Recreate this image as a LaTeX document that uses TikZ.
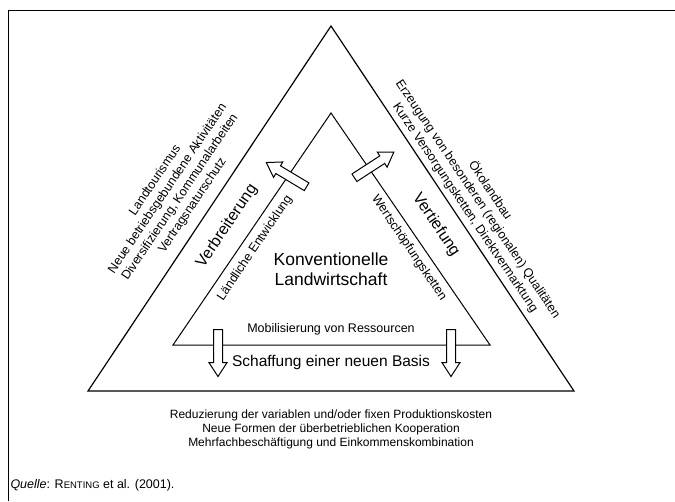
\documentclass[tikz,border=0pt]{standalone}
\usepackage{fontspec}
\setmainfont{Liberation Sans}
\usetikzlibrary{shapes.arrows}

\begin{document}
\begin{tikzpicture}[x=1pt, y=-1pt, line width=1pt,
  every node/.style={inner sep=0pt, align=center},
  smalltext/.style={font=\fontsize{12.5}{15}\selectfont},
  midtext/.style={font=\fontsize{16}{19}\selectfont},
  bigtext/.style={font=\fontsize{17.5}{20}\selectfont},
  blockarrow/.style={single arrow, draw, fill=white, line width=1pt,
    inner xsep=0pt, inner ysep=4pt, minimum height=47pt, minimum width=17pt,
    single arrow head extend=4.5pt, single arrow tip angle=66}]
\useasboundingbox (0,0) rectangle (675,501);
% frame
\draw (8,501) -- (8,10) -- (675,10);

% outer and inner triangle
\coordinate (oL) at (88,391);
\coordinate (oR) at (574,391);
\coordinate (oT) at (331,26);
\coordinate (iL) at (173,345);
\coordinate (iR) at (490,345);
\coordinate (iT) at (331,113);
\draw[line width=1.2pt] (oL) -- (oT) -- (oR) -- cycle;
\draw (iL) -- (iT) -- (iR) -- cycle;

% arrows
\node[blockarrow, anchor=tail, rotate=149] (arrL) at (307,187) {};
\node[blockarrow, anchor=tail, rotate=33] (arrR) at (354,178) {};
\node[blockarrow, anchor=tail, rotate=-90] (arrBL) at (218,329) {};
\node[blockarrow, anchor=tail, rotate=-90] (arrBR) at (451,329) {};

% labels along the sides
\node[smalltext, rotate=56] (broad) at (174,193)
  {Landtourismus\\Neue betriebsgebundene Aktivitäten\\Diversifizierung, Kommunalarbeiten\\Vertragsnaturschutz};
\node[smalltext, rotate=-56] (deep) at (478,199)
  {Ökolandbau\\Erzeugung von besonderen (regionalen) Qualitäten\\Kurze Versorgungsketten, Direktvermarktung};
\node[midtext, rotate=56] (verbr) at (227,226) {Verbreiterung};
\node[midtext, rotate=-56] (vert) at (436,225) {Vertiefung};
\node[smalltext, rotate=56] (laendl) at (255,248) {Ländliche Entwicklung};
\node[smalltext, rotate=-56] (wert) at (409,248) {Wertschöpfungsketten};

% inside
\node[bigtext] (konv) at (331,269) {Konventionelle\\Landwirtschaft};
\node[smalltext] (mobil) at (331,329) {Mobilisierung von Ressourcen};
\node[font=\fontsize{15.5}{18}\selectfont] (basis) at (331,362) {Schaffung einer neuen Basis};

% below
\node[font=\fontsize{12}{14}\selectfont] (reduz) at (331,429)
  {Reduzierung der variablen und/oder fixen Produktionskosten\\Neue Formen der überbetrieblichen Kooperation\\Mehrfachbeschäftigung und Einkommenskombination};
\node[smalltext, anchor=west] (quelle) at (10,485)
  {\textit{Quelle}: R{\fontsize{9.5}{12}\selectfont ENTING} et al. (2001).};
\end{tikzpicture}
\end{document}
